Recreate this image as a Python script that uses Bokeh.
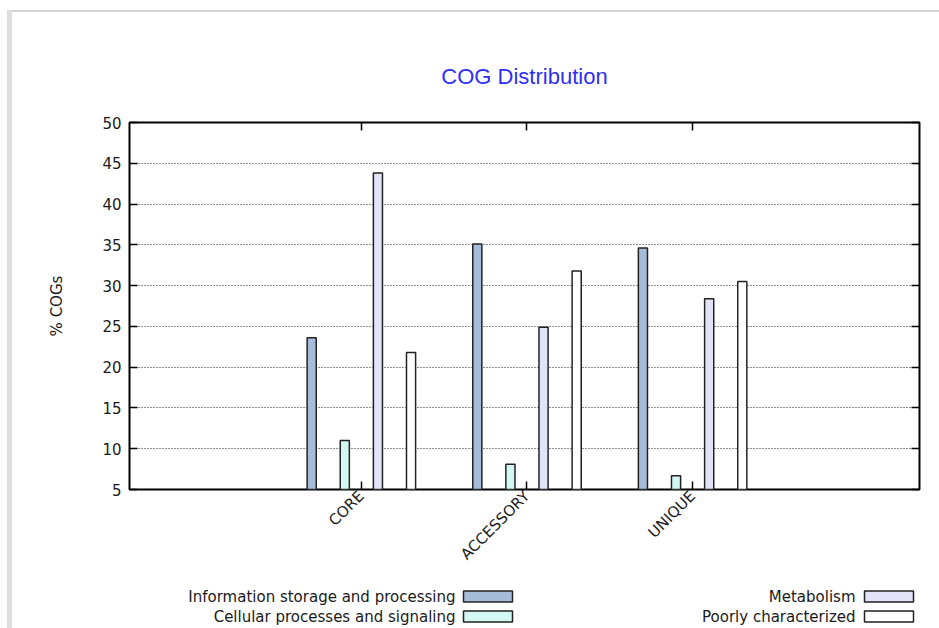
import numpy as np
from bokeh.plotting import figure
from bokeh.layouts import column, row
from bokeh.models import (ColumnDataSource, Range1d, FixedTicker, LinearAxis,
                          Spacer, CustomJSTickFormatter)
from bokeh.core.properties import value
from bokeh.embed import file_html
from bokeh.resources import INLINE

# ---- data ----
categories = ["CORE", "ACCESSORY", "UNIQUE"]
series_names = ["Information storage and processing",
                "Cellular processes and signaling",
                "Metabolism",
                "Poorly characterized"]
info_storage = [23.6, 35.1, 34.6]
cellular = [11.0, 8.1, 6.7]
metabolism = [43.8, 24.9, 28.4]
poorly_char = [21.8, 31.8, 30.5]
y_ticks = [5, 10, 15, 20, 25, 30, 35, 40, 45, 50]
title_text = "COG Distribution"
y_label = "% COGs"

series_values = [info_storage, cellular, metabolism, poorly_char]
colors = ["#a7bcd9", "#d3f8f4", "#e2e2f8", "#ffffff"]
offsets = [-0.3, -0.1, 0.1, 0.3]

FONT = "DejaVu Sans"
TXT = "#1a1a1a"

p = figure(width=927, height=568, x_range=Range1d(-1.40, 3.37),
           y_range=Range1d(5, 50), output_backend="svg",
           toolbar_location=None, min_border_left=117, min_border_right=20,
           min_border_top=110, min_border_bottom=91, margin=0)
p.background_fill_color = "white"
p.border_fill_color = "white"
p.outline_line_color = "black"
p.outline_line_width = 2

p.title.text = title_text
p.title.align = "center"
p.title.text_font = "Liberation Sans"
p.title.text_font_size = "22px"
p.title.text_font_style = "normal"
p.title.text_color = "#2f2ff5"
p.title.standoff = 68

idx = np.arange(len(categories))
for vals, col, off in zip(series_values, colors, offsets):
    src = ColumnDataSource(dict(x=idx + off, top=vals))
    p.vbar(x="x", top="top", bottom=0, width=0.055, source=src,
           fill_color=col, line_color="#222222", line_width=1.5)

# grid
p.xgrid.visible = False
p.ygrid.ticker = FixedTicker(ticks=y_ticks)
p.ygrid.grid_line_color = "#222222"
p.ygrid.grid_line_dash = "1 2"
p.ygrid.grid_line_width = 1.2

# left axis
ya = p.yaxis[0]
ya.ticker = FixedTicker(ticks=y_ticks)
ya.axis_line_color = None
ya.major_tick_in = 8
ya.major_tick_out = 0
ya.major_tick_line_width = 1.5
ya.minor_tick_line_color = None
ya.major_label_standoff = 8
ya.major_label_text_font = FONT
ya.major_label_text_font_size = "15px"
ya.major_label_text_color = TXT
ya.axis_label = y_label
ya.axis_label_text_font = FONT
ya.axis_label_text_font_size = "15px"
ya.axis_label_text_font_style = "normal"
ya.axis_label_text_color = TXT
ya.axis_label_standoff = 33

# bottom axis
xa = p.xaxis[0]
xa.ticker = FixedTicker(ticks=list(idx))
xa.major_label_overrides = {int(i): c for i, c in zip(idx, categories)}
xa.axis_line_color = None
xa.major_tick_in = 8
xa.major_tick_out = 0
xa.major_tick_line_width = 1.5
xa.minor_tick_line_color = None
xa.major_label_orientation = np.pi / 4
xa.major_label_standoff = 4
xa.major_label_text_font = FONT
xa.major_label_text_font_size = "15px"
xa.major_label_text_color = TXT

# mirrored axes (ticks only)
blank = CustomJSTickFormatter(code="return ''")
top_ax = LinearAxis(ticker=FixedTicker(ticks=list(idx)), axis_line_color=None,
                    major_tick_in=8, major_tick_out=0, major_tick_line_width=1.5,
                    minor_tick_line_color=None, formatter=blank)
right_ax = LinearAxis(ticker=FixedTicker(ticks=y_ticks), axis_line_color=None,
                      major_tick_in=8, major_tick_out=0, major_tick_line_width=1.5,
                      minor_tick_line_color=None, formatter=blank)
p.add_layout(top_ax, "above")
p.add_layout(right_ax, "right")

# ---- legend figure (text left of sample box, gnuplot style) ----
# its frame is aligned with the main plot frame (page x 129..919)
leg = figure(width=927, height=48, x_range=Range1d(129, 919),
             y_range=Range1d(628, 580), output_backend="svg",
             toolbar_location=None, min_border=0, margin=0,
             x_axis_location=None, y_axis_location=None)
leg.grid.visible = False
leg.outline_line_color = None
leg.background_fill_color = "white"
leg.border_fill_color = "white"
leg_text_x = [455, 455, 855, 855]
leg_box_x = [487.5, 487.5, 888.5, 888.5]
leg_y = [596, 616, 596, 616]
leg.text(x=leg_text_x, y=leg_y, text=series_names, text_align="right",
         text_baseline="middle", text_font=value(FONT),
         text_font_size="15px", text_color=TXT)
leg.rect(x=leg_box_x, y=leg_y, width=49, height=11, fill_color=colors,
         line_color="#222222", line_width=1.5)

# ---- page border (light gray, like the source document) ----
left_bar = Spacer(width=5, height=618, margin=0,
                  styles={"background-color": "#dedede"})
top_line = Spacer(width=927, height=2, margin=0,
                  styles={"background-color": "#d6d6d6"})
layout = column(Spacer(width=939, height=10, margin=0),
                row(Spacer(width=7, height=618, margin=0), left_bar,
                    column(top_line, p, leg, margin=0), margin=0),
                margin=0)

open("out.html", "w").write(file_html(layout, INLINE))
